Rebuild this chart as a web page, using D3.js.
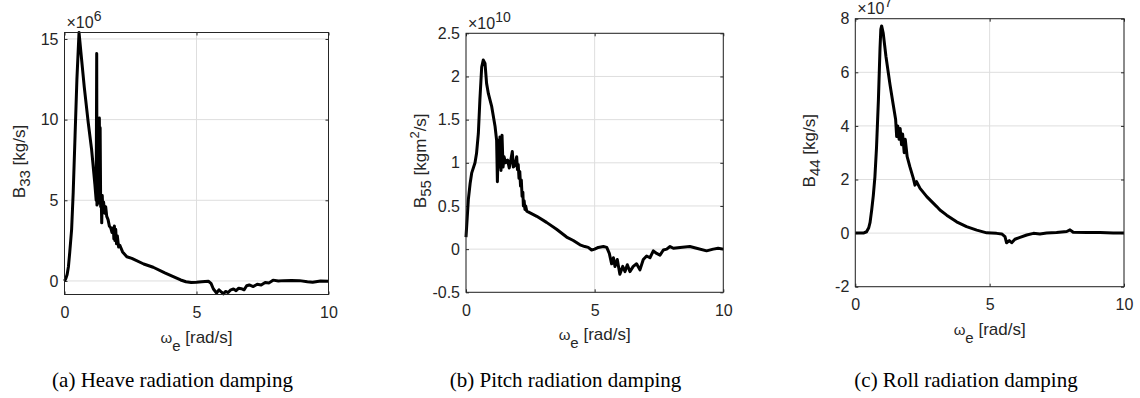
<!DOCTYPE html>
<html>
<head>
<meta charset="utf-8">
<script src="https://cdn.jsdelivr.net/npm/d3@7"></script>
<style>
  body { margin: 0; background: #fff; }
  svg text { font-family: "Liberation Sans", Arial, sans-serif; fill: #262626; }
  .caption { font-family: "Liberation Serif", "Times New Roman", serif; fill: #000; }
</style>
</head>
<body>
<svg id="chart" width="1140" height="398"></svg>
<script>
// frequency axis shared by the three plots
const xTicks = [0, 5, 10];

// (a) heave damping, B33 in 1e6 kg/s
const heaveW = [0, 0.05, 0.1, 0.15, 0.2, 0.27, 0.33, 0.4, 0.47, 0.55, 0.62, 0.75, 0.9, 1.03, 1.15, 1.2, 1.22, 1.23, 1.25, 1.27, 1.29, 1.31, 1.32, 1.34, 1.35, 1.37, 1.39, 1.41, 1.43, 1.45, 1.48, 1.52, 1.56, 1.6, 1.65, 1.7, 1.75, 1.8, 1.85, 1.87, 1.89, 1.91, 1.94, 1.97, 2.0, 2.05, 2.1, 2.2, 2.36, 2.55, 3.0, 3.36, 3.8, 4.12, 4.4, 4.6, 4.8, 5.0, 5.2, 5.45, 5.55, 5.64, 5.76, 5.85, 5.95, 6.02, 6.1, 6.2, 6.3, 6.4, 6.5, 6.6, 6.7, 6.8, 6.9, 7.0, 7.15, 7.3, 7.45, 7.6, 7.75, 7.9, 8.1, 8.3, 8.6, 8.9, 9.2, 9.4, 9.7, 10];
const heaveB = [0, 0.15, 0.4, 0.9, 1.8, 3.2, 5.5, 9.0, 12.5, 15.4, 14.2, 12.0, 9.8, 8.1, 6.0, 5.0, 14.1, 4.7, 8.5, 4.8, 6.5, 5.0, 10.1, 5.2, 9.5, 4.6, 5.3, 3.6, 5.3, 4.5, 4.9, 4.2, 4.6, 4.0, 3.8, 3.4, 3.3, 3.0, 3.3, 2.6, 3.4, 2.5, 3.2, 2.3, 2.8, 2.1, 2.2, 1.8, 1.5, 1.4, 1.05, 0.85, 0.5, 0.27, 0.06, -0.05, -0.1, -0.08, -0.05, -0.02, -0.15, -0.5, -0.75, -0.55, -0.7, -0.8, -0.65, -0.72, -0.55, -0.5, -0.6, -0.45, -0.48, -0.55, -0.3, -0.25, -0.35, -0.2, -0.25, -0.1, -0.12, 0.05, 0.0, 0.02, 0.03, 0.02, -0.05, -0.08, 0.0, -0.02];
const heaveTicks = [0, 5, 10, 15];

// (b) pitch damping, B55 in 1e10 kgm^2/s
const pitchW = [0, 0.09, 0.16, 0.22, 0.35, 0.41, 0.48, 0.54, 0.61, 0.67, 0.74, 0.80, 0.87, 1.0, 1.13, 1.19, 1.22, 1.26, 1.3, 1.32, 1.36, 1.40, 1.44, 1.48, 1.54, 1.62, 1.68, 1.74, 1.80, 1.84, 1.9, 1.97, 2.0, 2.03, 2.06, 2.09, 2.12, 2.15, 2.18, 2.21, 2.23, 2.26, 2.29, 2.32, 2.36, 2.75, 3.13, 3.52, 3.91, 4.17, 4.43, 4.62, 4.75, 4.88, 5.0, 5.14, 5.34, 5.47, 5.57, 5.66, 5.73, 5.79, 5.88, 5.98, 6.09, 6.18, 6.27, 6.37, 6.5, 6.63, 6.76, 6.89, 7.02, 7.15, 7.28, 7.41, 7.54, 7.67, 7.8, 7.93, 8.06, 8.32, 8.7, 8.96, 9.35, 9.61, 9.8, 10];
const pitchB = [0.14, 0.57, 0.76, 0.88, 1.0, 1.11, 1.34, 1.73, 2.11, 2.19, 2.15, 1.92, 1.80, 1.65, 1.42, 1.26, 0.78, 1.26, 0.95, 1.30, 0.91, 1.32, 0.95, 1.07, 1.0, 1.03, 0.94, 1.03, 1.13, 0.95, 0.97, 1.07, 0.92, 0.98, 0.82, 0.9, 0.73, 0.8, 0.61, 0.66, 0.5, 0.56, 0.46, 0.5, 0.44, 0.38, 0.31, 0.23, 0.14, 0.1, 0.05, 0.03, 0.02, -0.01, 0.0, 0.02, 0.03, 0.02, -0.05, -0.17, -0.1, -0.2, -0.12, -0.29, -0.2, -0.26, -0.18, -0.26, -0.2, -0.17, -0.24, -0.12, -0.08, -0.1, -0.02, -0.05, -0.07, -0.01, 0, 0.03, 0.01, 0.02, 0.03, 0.01, -0.02, 0.0, 0.01, 0];
const pitchTicks = [-0.5, 0, 0.5, 1, 1.5, 2, 2.5];

// (c) roll damping, B44 in 1e7 kg/s
const rollW = [0, 0.3, 0.42, 0.5, 0.55, 0.61, 0.67, 0.73, 0.79, 0.86, 0.92, 0.95, 0.98, 1.04, 1.14, 1.29, 1.41, 1.50, 1.54, 1.58, 1.63, 1.67, 1.72, 1.76, 1.82, 1.86, 1.93, 2.03, 2.16, 2.22, 2.28, 2.41, 2.66, 3.03, 3.15, 3.4, 3.77, 4.14, 4.52, 4.89, 5.26, 5.45, 5.57, 5.63, 5.73, 5.82, 5.94, 6.13, 6.38, 6.63, 6.87, 7.12, 7.49, 7.87, 7.99, 8.11, 8.61, 9.11, 9.6, 10];
const rollB = [0, 0, 0.05, 0.2, 0.4, 0.86, 1.4, 2.1, 3.2, 4.97, 6.9, 7.6, 7.73, 7.45, 6.6, 5.55, 4.8, 4.25, 3.6, 4.0, 3.5, 3.9, 3.3, 3.7, 3.0, 3.5, 2.85, 2.48, 2.04, 1.79, 1.92, 1.67, 1.36, 0.99, 0.86, 0.67, 0.42, 0.24, 0.11, 0.01, -0.01, -0.03, -0.13, -0.36, -0.28, -0.36, -0.23, -0.16, -0.07, -0.01, -0.03, 0, 0.02, 0.06, 0.12, 0.03, 0.02, 0.02, 0, 0];
const rollTicks = [-2, 0, 2, 4, 6, 8];

const svg = d3.select("#chart");

const panels = [
  { w: heaveW, b: heaveB, ticks: heaveTicks, yMin: -0.84, yMax: 15.4,
    left: 64.5, right: 328.5, top: 32.5, bottom: 294.5,
    exp: "6", sub: "33", unit: ["kg/s"], caption: "(a) Heave radiation damping", capX: 172.5 },
  { w: pitchW, b: pitchB, ticks: pitchTicks, yMin: -0.5, yMax: 2.5,
    left: 466, right: 723.3, top: 33.3, bottom: 292.3,
    exp: "10", sub: "55", unit: ["kgm", "2", "/s"], caption: "(b) Pitch radiation damping", capX: 565.5 },
  { w: rollW, b: rollB, ticks: rollTicks, yMin: -2, yMax: 8,
    left: 855.3, right: 1124, top: 18.7, bottom: 286.7,
    exp: "7", sub: "44", unit: ["kg/s"], caption: "(c) Roll radiation damping", capX: 966 }
];

panels.forEach(p => {
  const x = d3.scaleLinear().domain([0, 10]).range([p.left, p.right]);
  const y = d3.scaleLinear().domain([p.yMin, p.yMax]).range([p.bottom, p.top]);
  const g = svg.append("g");

  // grid
  g.selectAll(".gx").data(xTicks).enter().append("line")
    .attr("x1", d => x(d)).attr("x2", d => x(d))
    .attr("y1", p.top).attr("y2", p.bottom)
    .attr("stroke", "#dedede");
  g.selectAll(".gy").data(p.ticks).enter().append("line")
    .attr("y1", d => y(d)).attr("y2", d => y(d))
    .attr("x1", p.left).attr("x2", p.right)
    .attr("stroke", "#dedede");

  // axes with inward ticks
  g.append("g").attr("transform", `translate(0,${p.bottom})`)
    .call(d3.axisBottom(x).tickValues(xTicks).tickSize(-3).tickSizeOuter(0).tickPadding(12));
  g.append("g").attr("transform", `translate(${p.left},0)`)
    .call(d3.axisLeft(y).tickValues(p.ticks).tickFormat(d => String(d)).tickSize(-3).tickSizeOuter(0).tickPadding(6));
  g.append("g").attr("transform", `translate(0,${p.top})`)
    .call(d3.axisTop(x).tickValues(xTicks).tickSize(-3).tickSizeOuter(0).tickFormat(""));
  g.append("g").attr("transform", `translate(${p.right},0)`)
    .call(d3.axisRight(y).tickValues(p.ticks).tickSize(-3).tickSizeOuter(0).tickFormat(""));
  g.selectAll(".domain").remove();
  g.selectAll(".tick line").attr("stroke", "#262626");
  g.selectAll(".tick text").attr("font-size", 16).attr("fill", "#262626")
    .attr("font-family", "'Liberation Sans', Arial, sans-serif");

  // data
  const pts = p.w.map((w, i) => [w, p.b[i]]);
  g.append("path")
    .attr("d", d3.line().x(d => x(d[0])).y(d => y(d[1]))(pts))
    .attr("fill", "none").attr("stroke", "#000").attr("stroke-width", 3)
    .attr("stroke-linejoin", "round");

  // box
  g.append("rect")
    .attr("x", p.left).attr("y", p.top)
    .attr("width", p.right - p.left).attr("height", p.bottom - p.top)
    .attr("fill", "none").attr("stroke", "#262626").attr("stroke-width", 1);

  // exponent label
  const ex = g.append("text").attr("x", p.left + 2).attr("y", p.top - 4.5).attr("font-size", 16);
  ex.append("tspan").text("\u00d710");
  ex.append("tspan").attr("dy", -7).attr("font-size", 14).text(p.exp);

  // y label
  const cy = (p.top + p.bottom) / 2 - 2;
  const yl = g.append("text")
    .attr("transform", `translate(${p.left - 40},${cy}) rotate(-90)`)
    .attr("text-anchor", "middle").attr("font-size", 17);
  yl.append("tspan").text("B");
  yl.append("tspan").attr("dy", 5).attr("font-size", 15).text(p.sub);
  if (p.unit.length === 1) {
    yl.append("tspan").attr("dy", -5).text(" [" + p.unit[0] + "]");
  } else {
    yl.append("tspan").attr("dy", -5).text(" [" + p.unit[0]);
    yl.append("tspan").attr("dy", -7).attr("font-size", 13).text(p.unit[1]);
    yl.append("tspan").attr("dy", 7).text(p.unit[2] + "]");
  }

  // x label
  const xl = g.append("text")
    .attr("x", (p.left + p.right) / 2).attr("y", p.bottom + 48)
    .attr("text-anchor", "middle").attr("font-size", 17);
  xl.append("tspan").attr("font-size", 15).text("\u03c9");
  xl.append("tspan").attr("dy", 8).attr("font-size", 15).text("e");
  xl.append("tspan").attr("dy", -8).text(" [rad/s]");

  // caption
  svg.append("text").attr("class", "caption")
    .attr("x", p.capX).attr("y", 386.5)
    .attr("text-anchor", "middle").attr("font-size", 21)
    .text(p.caption);
});
</script>
</body>
</html>
